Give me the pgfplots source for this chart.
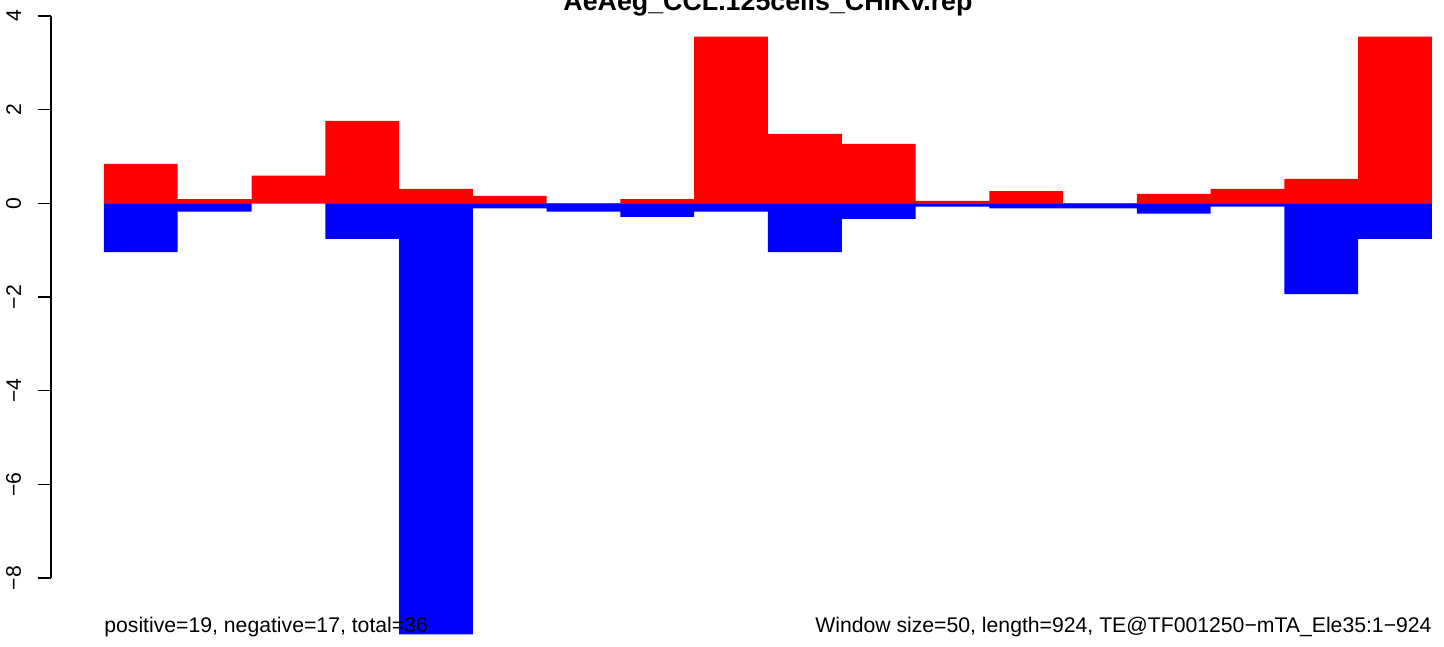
\documentclass[border=0pt]{standalone}
\usepackage{pgfplots}
\pgfplotsset{compat=1.18}
\usepackage{pgfplotstable}
\usepackage{fontspec}
\setmainfont{Liberation Sans}
\definecolor{rred}{RGB}{255,0,0}
\definecolor{rblue}{RGB}{0,0,255}
\definecolor{rgrey}{RGB}{190,190,190}
\pgfplotstableread{
x pos neg
0 0.84 -1.04
1 0.09 -0.18
2 0.59 0.00
3 1.76 -0.76
4 0.31 -9.20
5 0.16 -0.11
6 0.00 -0.18
7 0.09 -0.29
8 3.56 -0.18
9 1.48 -1.04
10 1.27 -0.33
11 0.05 -0.07
12 0.26 -0.11
13 0.00 -0.11
14 0.20 -0.22
15 0.31 -0.07
16 0.52 -1.94
17 3.56 -0.76
18 0 0
}\bars
\begin{document}
\begin{tikzpicture}
\fontsize{10.6pt}{12pt}\selectfont
\begin{axis}[
  scale only axis,
  width=696.5pt, height=323pt,
  xmin=-0.718, xmax=18.163,
  ymin=-9.45, ymax=4.34,
  clip=false,
  axis line style={draw=none},
  xtick=\empty,
  ytick={-8,-6,-4,-2,0,2,4},
  yticklabels={−8,−6,−4,−2,0,2,4},
  ytick pos=left,
  tick align=outside,
  major tick length=6.7pt,
  tick style={black, line width=0.6pt},
  yticklabel style={rotate=90, anchor=south, inner sep=0pt, yshift=8pt, font=\fontsize{10.6pt}{12pt}\selectfont},
]
\coordinate (BL) at (axis cs:-1.409,-9.45);
\coordinate (TR) at (axis cs:18.163,4.34);
\draw[black, line width=0.6pt] (axis cs:-0.718,-8) -- (axis cs:-0.718,4);
\addplot[rgrey, line width=0.6pt] coordinates {(0,0) (18,0)};
\addplot[ybar interval, fill=rred, draw=none] table[x=x, y=pos] {\bars};
\addplot[ybar interval, fill=rblue, draw=none] table[x=x, y=neg] {\bars};
\node[anchor=base, font=\fontsize{13.4pt}{15pt}\selectfont\bfseries] at (axis cs:9,4.11) {AeAeg\_CCL.125cells\_CHIKv.rep};
\node[anchor=base west, inner sep=0pt, font=\fontsize{10.6pt}{12pt}\selectfont] at (axis cs:0,-9.17) {positive=19, negative=17, total=36};
\node[anchor=base east, inner sep=0pt, font=\fontsize{10.6pt}{12pt}\selectfont] at (axis cs:18,-9.17) {Window size=50, length=924, TE@TF001250−mTA\_Ele35:1−924};
\end{axis}
\pgfresetboundingbox
\path[use as bounding box] (BL) rectangle (TR);
\end{tikzpicture}
\end{document}
